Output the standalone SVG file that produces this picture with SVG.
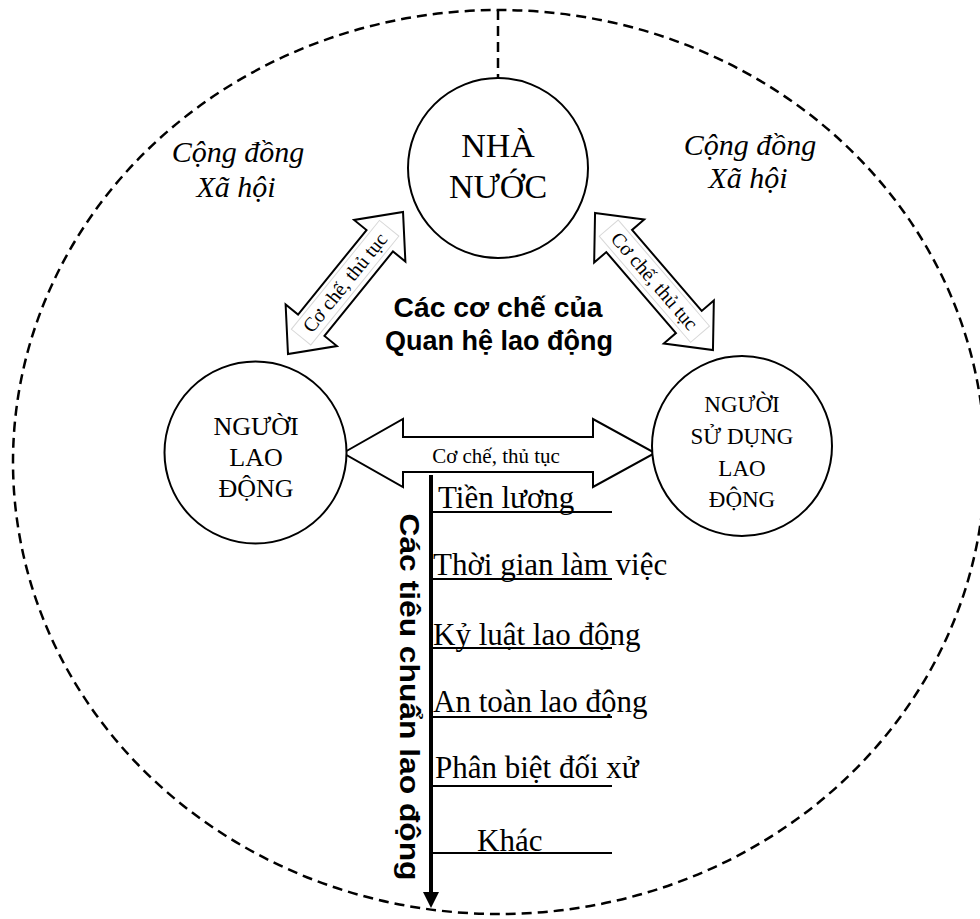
<svg xmlns="http://www.w3.org/2000/svg" width="980" height="919" viewBox="0 0 980 919">
<style>
.dash{fill:none;stroke:#000;stroke-width:2.5;stroke-dasharray:10 6}
.circ{fill:#fff;stroke:#000;stroke-width:2}
.arr{fill:#fff;stroke:#000;stroke-width:2;stroke-linejoin:miter}
.serif{font-family:"Liberation Serif","Times New Roman",serif;fill:#000}
.sans{font-family:"Liberation Sans",Arial,sans-serif;font-weight:bold;fill:#000}
.ul{stroke:#000;stroke-width:2}
.tbox{fill:#fff;stroke:#d8d8d8;stroke-width:1}
</style>
<rect width="980" height="919" fill="#fff"/>
<g id="boundary">
<ellipse class="dash" cx="499" cy="462" rx="486" ry="452"/>
</g>
<g id="connectors">
<line class="dash" x1="498" y1="10" x2="498" y2="78"/>
<g id="arrow-left" transform="translate(345.5,283) rotate(-51)">
<polygon class="arr" points="-91.4,0 -54.4,-33 -54.4,-17 54.4,-17 54.4,-33 91.4,0 54.4,33 54.4,17 -54.4,17 -54.4,33"/>
<rect class="tbox" x="-70" y="-13" width="140" height="25"/>
<text class="serif" x="0" y="6" font-size="20" text-anchor="middle">Cơ chế, thủ tục</text>
</g>
<g id="arrow-right" transform="translate(654,281.5) rotate(49.3)">
<polygon class="arr" points="-90.4,0 -53.4,-33 -53.4,-17 53.4,-17 53.4,-33 90.4,0 53.4,33 53.4,17 -53.4,17 -53.4,33"/>
<rect class="tbox" x="-70" y="-13" width="140" height="25"/>
<text class="serif" x="0" y="6" font-size="20" text-anchor="middle">Cơ chế, thủ tục</text>
</g>
<g id="arrow-horizontal">
<polygon class="arr" points="343,453 403,419 403,437 593,437 593,419 655,453 593,487 593,472 403,472 403,487"/>
<text class="serif" x="496" y="463" font-size="21" text-anchor="middle">Cơ chế, thủ tục</text>
</g>
<line x1="431" y1="475" x2="431" y2="893" stroke="#000" stroke-width="4"/>
<polygon points="423,892 439,892 431,908" fill="#000"/>
</g>
<g id="nha-nuoc">
<circle class="circ" cx="498" cy="168" r="90"/>
<text class="serif" font-size="34" text-anchor="middle"><tspan x="498" y="157">NHÀ</tspan><tspan x="498" y="198">NƯỚC</tspan></text>
</g>
<g id="nguoi-lao-dong">
<circle class="circ" cx="255.5" cy="452.5" r="91"/>
<text class="serif" font-size="26" text-anchor="middle"><tspan x="256" y="435">NGƯỜI</tspan><tspan x="256" y="466">LAO</tspan><tspan x="256" y="497">ĐỘNG</tspan></text>
</g>
<g id="nguoi-su-dung">
<circle class="circ" cx="742" cy="446" r="90"/>
<text class="serif" font-size="23" text-anchor="middle"><tspan x="742" y="412">NGƯỜI</tspan><tspan x="742" y="444">SỬ DỤNG</tspan><tspan x="742" y="476">LAO</tspan><tspan x="742" y="507">ĐỘNG</tspan></text>
</g>
<g id="cong-dong-left">
<text class="serif" font-size="30" font-style="italic" text-anchor="middle"><tspan x="238" y="162">Cộng đồng</tspan><tspan x="236" y="197">Xã hội</tspan></text>
</g>
<g id="cong-dong-right">
<text class="serif" font-size="30" font-style="italic" text-anchor="middle"><tspan x="750" y="155">Cộng đồng</tspan><tspan x="748" y="188">Xã hội</tspan></text>
</g>
<g id="title">
<text class="sans" font-size="27.5" text-anchor="middle"><tspan x="498" y="317" textLength="209" lengthAdjust="spacingAndGlyphs">Các cơ chế của</tspan><tspan x="499" y="350" textLength="228" lengthAdjust="spacingAndGlyphs">Quan hệ lao động</tspan></text>
</g>
<g id="standards-label">
<text class="sans" font-size="28" text-anchor="middle" textLength="367" lengthAdjust="spacingAndGlyphs" transform="translate(400,697) rotate(90)">Các tiêu chuẩn lao động</text>
</g>
<g id="standards">
<line class="ul" x1="431" y1="512" x2="612" y2="512"/>
<text class="serif" font-size="31" x="438" y="508">Tiền lương</text>
<line class="ul" x1="431" y1="579" x2="612" y2="579"/>
<text class="serif" font-size="31" x="433" y="575">Thời gian làm việc</text>
<line class="ul" x1="431" y1="648" x2="612" y2="648"/>
<text class="serif" font-size="31" x="433" y="645">Kỷ luật lao động</text>
<line class="ul" x1="431" y1="717" x2="612" y2="717"/>
<text class="serif" font-size="31" x="433" y="712">An toàn lao động</text>
<line class="ul" x1="431" y1="786" x2="612" y2="786"/>
<text class="serif" font-size="31" x="435" y="778">Phân biệt đối xử</text>
<line class="ul" x1="431" y1="853" x2="612" y2="853"/>
<text class="serif" font-size="31" x="477" y="851">Khác</text>
</g>
</svg>
